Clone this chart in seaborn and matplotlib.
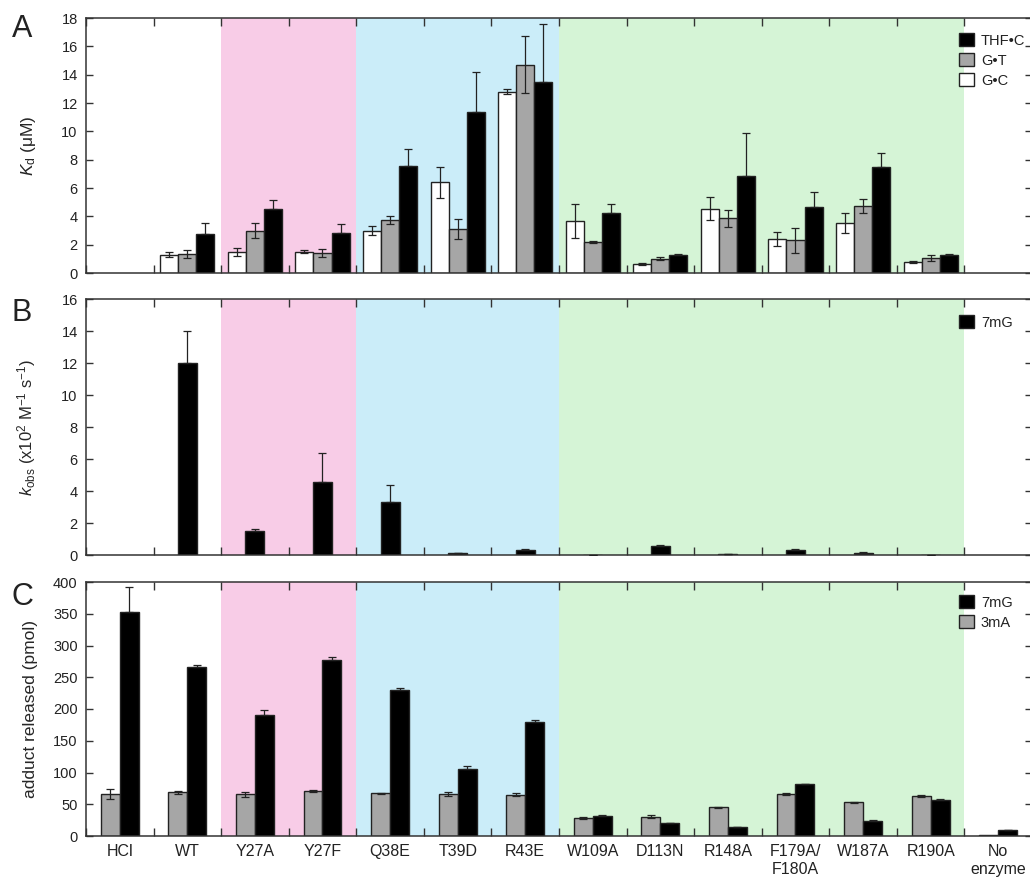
import numpy as np
import pandas as pd
import matplotlib
matplotlib.use('Agg')
import matplotlib.pyplot as plt
import seaborn as sns

nan = np.nan

enzymes = ['HCl', 'WT', 'Y27A', 'Y27F', 'Q38E', 'T39D', 'R43E', 'W109A',
           'D113N', 'R148A', 'F179A/\nF180A', 'W187A', 'R190A', 'No\nenzyme']

# panel A: Kd (uM)
kd_gc      = [nan, 1.3, 1.5, 1.5, 3.0, 6.4, 12.8, 3.7, 0.66, 4.55, 2.4, 3.55, 0.78, nan]
kd_gc_err  = [nan, 0.2, 0.3, 0.1, 0.3, 1.1, 0.2, 1.2, 0.07, 0.8, 0.5, 0.7, 0.1, nan]
kd_gt      = [nan, 1.35, 3.0, 1.4, 3.75, 3.1, 14.7, 2.2, 1.0, 3.85, 2.3, 4.7, 1.05, nan]
kd_gt_err  = [nan, 0.3, 0.5, 0.3, 0.3, 0.7, 2.0, 0.05, 0.1, 0.6, 0.9, 0.5, 0.2, nan]
kd_thf     = [nan, 2.75, 4.55, 2.85, 7.55, 11.35, 13.45, 4.25, 1.25, 6.85, 4.65, 7.5, 1.25, nan]
kd_thf_err = [nan, 0.8, 0.6, 0.6, 1.2, 2.85, 4.1, 0.6, 0.07, 3.0, 1.1, 0.95, 0.07, nan]

# panel B: kobs (x10^2 M-1 s-1), 7mG
kobs     = [nan, 12.0, 1.5, 4.55, 3.3, 0.1, 0.3, 0.02, 0.57, 0.07, 0.34, 0.15, 0.02, nan]
kobs_err = [nan, 2.0, 0.15, 1.85, 1.1, 0.05, 0.08, 0.01, 0.06, 0.02, 0.03, 0.06, 0.01, nan]

# panel C: adduct released (pmol)
rel_3ma     = [66.5, 68.6, 65.4, 71.2, 67.5, 66.5, 65.0, 28.4, 30.5, 45.3, 65.8, 53.2, 63.2, 1.0]
rel_3ma_err = [8, 3, 3.5, 2, 1, 3, 2, 1, 2, 1, 2, 1, 1.5, 0]
rel_7mg     = [352.5, 266, 190, 277, 229.5, 106, 179, 32, 20, 13.7, 81.6, 24.2, 56.8, 9]
rel_7mg_err = [40, 3, 8, 5, 3, 5, 3, 1, 1, 0.5, 1, 1, 1, 1]

sns.set_style('ticks')
plt.rcParams['font.family'] = ['Liberation Sans', 'DejaVu Sans']
plt.rcParams['mathtext.fontset'] = 'custom'
plt.rcParams['mathtext.rm'] = 'Liberation Sans'
plt.rcParams['mathtext.it'] = 'Liberation Sans:italic'
plt.rcParams['text.color'] = '#222222'
plt.rcParams['xtick.color'] = '#333333'
plt.rcParams['ytick.color'] = '#333333'
plt.rcParams['xtick.labelcolor'] = '#222222'
plt.rcParams['ytick.labelcolor'] = '#222222'

GRAY = '#a6a6a6'
EDGE = '#222222'

dfA = pd.DataFrame({
    'enzyme': enzymes * 3,
    'pair': ['G•C'] * 14 + ['G•T'] * 14 + ['THF•C'] * 14,
    'value': kd_gc + kd_gt + kd_thf,
})
orderA = ['G•C', 'G•T', 'THF•C']
errA = [kd_gc_err, kd_gt_err, kd_thf_err]

dfB = pd.DataFrame({'enzyme': enzymes, 'adduct': ['7mG'] * 14, 'value': kobs})
errB = [kobs_err]

dfC = pd.DataFrame({
    'enzyme': enzymes * 2,
    'adduct': ['3mA'] * 14 + ['7mG'] * 14,
    'value': rel_3ma + rel_7mg,
})
orderC = ['3mA', '7mG']
errC = [rel_3ma_err, rel_7mg_err]

W, H = 1030, 880
fig = plt.figure(figsize=(W / 100, H / 100), dpi=100)
left = 86 / W
width = 946 / W


def panel_axes(top_px, bot_px):
    return fig.add_axes([left, 1 - bot_px / H, width, (bot_px - top_px) / H])


axA = panel_axes(18, 273)
axB = panel_axes(299, 555)
axC = panel_axes(582, 836)


def shade(ax):
    ax.axvspan(1.5, 3.5, color='#f8cce7', lw=0, zorder=0)
    ax.axvspan(3.5, 6.5, color='#cbedf9', lw=0, zorder=0)
    ax.axvspan(6.5, 12.5, color='#d5f4d6', lw=0, zorder=0)


def add_errors(ax, errs, black_last=True):
    # one bar container per hue level, in hue order; the black series only
    # shows its upper whisker (lower half is hidden in the black bar)
    n = len(errs)
    for k, (cont, err) in enumerate(zip(ax.containers, errs)):
        upper_only = black_last and k == n - 1
        for bar in cont:
            h = bar.get_height()
            xc = bar.get_x() + bar.get_width() / 2
            i = int(round(xc))
            if np.isnan(h) or np.isnan(err[i]) or err[i] == 0:
                continue
            yerr = [[0], [err[i]]] if upper_only else err[i]
            ax.errorbar(xc, h, yerr=yerr, fmt='none', ecolor='#222222',
                        elinewidth=0.9, capsize=3, capthick=0.9, zorder=4)


def style(ax, ymax, ystep, ylabel, letter, letter_y, show_labels, ylsize):
    ax.set_xlim(-0.5, 13.5)
    ax.set_ylim(0, ymax)
    ax.set_yticks(np.arange(0, ymax + 0.1, ystep))
    ax.set_xticks(range(14))
    ax.set_xticks(np.arange(-0.5, 14, 1), minor=True)
    if show_labels:
        ax.set_xticklabels(enzymes, fontsize=11.5, linespacing=1.2)
    else:
        ax.set_xticklabels([])
    ax.tick_params(axis='x', which='major', length=0, pad=6)
    ax.tick_params(axis='x', which='minor', direction='in', length=5.5,
                   width=1, top=True, bottom=True)
    ax.tick_params(axis='y', direction='in', length=5, width=1,
                   left=True, right=True, labelsize=10.5, pad=6)
    for s in ax.spines.values():
        s.set_visible(True)
        s.set_color('#333333')
        s.set_linewidth(1.1)
    ax.set_xlabel('')
    ax.set_ylabel(ylabel, fontsize=ylsize)
    ax.yaxis.set_label_coords(-0.051, 0.5)
    fig.text(22 / W, 1 - letter_y / H, letter, fontsize=22, ha='center', va='center')


def legend(ax, top_px):
    handles, labels = ax.get_legend_handles_labels()
    if ax.get_legend() is not None:
        ax.get_legend().remove()
    ax.legend(handles[::-1], labels[::-1], loc='upper left',
              bbox_to_anchor=(959 / W, 1 - top_px / H), bbox_transform=fig.transFigure,
              frameon=False, handlelength=1.0, handleheight=1.0, labelspacing=0.38,
              handletextpad=0.5, borderpad=0, borderaxespad=0, fontsize=10.5)


# A
shade(axA)
sns.barplot(data=dfA, x='enzyme', y='value', hue='pair', order=enzymes,
            hue_order=orderA,
            palette={'G•C': 'white', 'G•T': GRAY, 'THF•C': 'black'},
            width=0.8, saturation=1, edgecolor=EDGE, linewidth=1,
            errorbar=None, ax=axA, zorder=2)
add_errors(axA, errA)
style(axA, 18, 2, r'$K_\mathrm{d}$ (μM)', 'A', 29, False, 12.5)
legend(axA, 33)

# B
shade(axB)
sns.barplot(data=dfB, x='enzyme', y='value', hue='adduct', order=enzymes,
            hue_order=['7mG'], palette={'7mG': 'black'},
            width=0.28, saturation=1, edgecolor=EDGE, linewidth=1,
            errorbar=None, ax=axB, zorder=2)
add_errors(axB, errB)
style(axB, 16, 2, r'$k_\mathrm{obs}$ (x10$^2$ M$^{-1}$ s$^{-1}$)', 'B', 313, False, 12)
legend(axB, 315)

# C
shade(axC)
sns.barplot(data=dfC, x='enzyme', y='value', hue='adduct', order=enzymes,
            hue_order=orderC, palette={'3mA': GRAY, '7mG': 'black'},
            width=0.56, saturation=1, edgecolor=EDGE, linewidth=1,
            errorbar=None, ax=axC, zorder=2)
add_errors(axC, errC)
style(axC, 400, 50, 'adduct released (pmol)', 'C', 597, True, 12.5)
legend(axC, 595)

fig.savefig('out.png', dpi=100)
plt.close(fig)
